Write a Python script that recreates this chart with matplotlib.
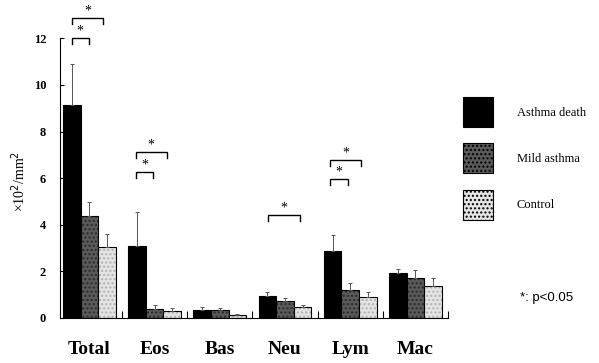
import numpy as np
import matplotlib
matplotlib.use('Agg')
import matplotlib.pyplot as plt
from matplotlib.patches import Patch

# cell counts (x10^2/mm^2)
categories = ['Total', 'Eos', 'Bas', 'Neu', 'Lym', 'Mac']
groups = ['Asthma death', 'Mild asthma', 'Control']
death = [9.16, 3.08, 0.31, 0.94, 2.88, 1.94]
death_err = [1.72, 1.45, 0.14, 0.16, 0.67, 0.16]
mild = [4.36, 0.38, 0.33, 0.70, 1.17, 1.70]
mild_err = [0.61, 0.17, 0.10, 0.15, 0.33, 0.35]
control = [3.05, 0.27, 0.12, 0.45, 0.87, 1.37]
control_err = [0.53, 0.14, 0.04, 0.10, 0.22, 0.33]
yticks = [0, 2, 4, 6, 8, 10, 12]

# significance brackets: (group index, start offset, end offset, height)
brackets = [
    (0, -0.27, -0.01, 12.0), (0, -0.27, 0.21, 12.86),
    (1, -0.29, -0.02, 6.25), (1, -0.29, 0.19, 7.1),
    (3, -0.26, 0.23, 4.42),
    (4, -0.31, -0.04, 5.96), (4, -0.31, 0.17, 6.77),
]

serif = 'Liberation Serif'

fig = plt.figure(figsize=(5.99, 3.63), dpi=100)
ax = fig.add_axes([0.1002, 0.1248, 0.6477, 0.8752])

x = np.arange(len(categories))
w = 0.27
styles = [
    ('black', None, 'black'),
    ('#5a5a5a', '....', '#2a2a2a'),
    ('#e4e4e4', '....', '#b0b0b0'),
]
series = [(death, death_err), (mild, mild_err), (control, control_err)]
handles = []
for k, ((vals, err), (fc, hatch, hc)) in enumerate(zip(series, styles)):
    pos = x + (k - 1) * w
    ax.bar(pos, vals, w, color=fc, hatch=hatch, edgecolor=hc, linewidth=0)
    ax.bar(pos, vals, w, fill=False, edgecolor='black', linewidth=0.8)
    ax.errorbar(pos, vals, yerr=[np.zeros(len(vals)), err], fmt='none',
                ecolor='#555555', elinewidth=0.7, capsize=1.2, capthick=0.7)
    handles.append(Patch(facecolor=fc, hatch=hatch, edgecolor='black', linewidth=0.8))

d = 0.25
for g, a, b, y in brackets:
    x1, x2 = g + a, g + b
    ax.plot([x1, x1, x2, x2], [y - d, y, y, y - d], color='black', lw=1.0,
            solid_joinstyle='miter', clip_on=False)
    ax.text((x1 + x2) / 2, y + 0.02, '*', ha='center', va='bottom',
            fontsize=10, family=serif, clip_on=False)

ax.set_xlim(-0.45, 5.5)
ax.set_ylim(0, 13.65)
ax.spines['top'].set_visible(False)
ax.spines['right'].set_visible(False)
ax.spines['left'].set_bounds(0, 12)
ax.spines['left'].set_linewidth(0.8)
ax.spines['bottom'].set_linewidth(0.8)

ax.set_yticks(yticks)
ax.set_yticklabels([str(t) for t in yticks], family=serif, fontweight='bold', fontsize=9)
ax.tick_params(axis='y', direction='in', length=3, width=0.8, pad=10)

ax.set_xticks(x + 0.5)
ax.set_xticklabels([])
ax.tick_params(axis='x', direction='in', length=5, width=0.8)
for i, c in enumerate(categories):
    ax.text(i, -1.35, c, ha='center', va='center', fontsize=14,
            family=serif, fontweight='bold', clip_on=False)

fig.text(0.032, 0.50, '×10$^2$/mm$^2$', rotation=90, ha='center', va='center',
         fontsize=10, family=serif)

fig.legend(handles, groups, loc='upper left', bbox_to_anchor=(0.773, 0.733),
           frameon=False, prop={'family': serif, 'size': 9},
           borderpad=0, borderaxespad=0,
           handlelength=2.4, handleheight=3.33, labelspacing=1.3, handletextpad=1.9)

fig.text(0.868, 0.18, '*: p<0.05', ha='left', va='center', fontsize=9.5,
         family='Liberation Sans')

fig.savefig('out.png', dpi=100)
